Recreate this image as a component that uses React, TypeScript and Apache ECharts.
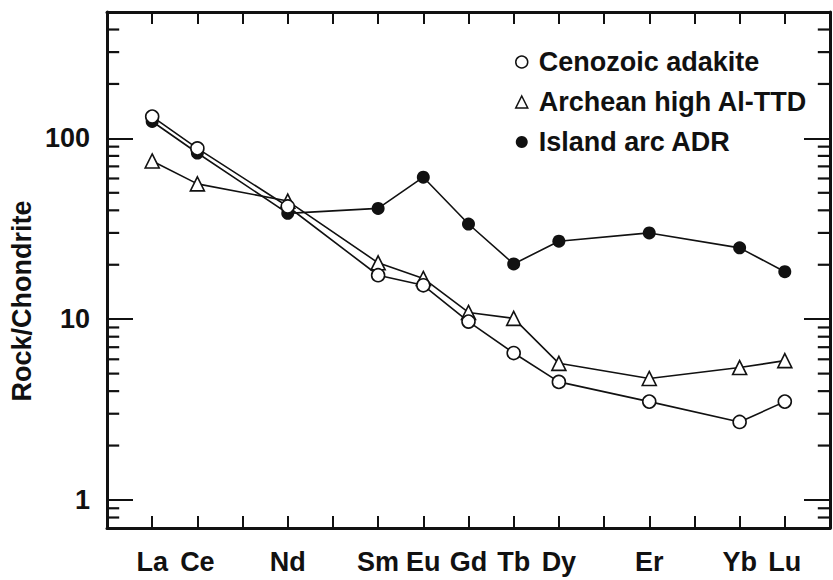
import React, { useEffect, useRef } from 'react';
import * as echarts from 'echarts';

// Rare-earth elements along the x axis (Pr, Pm, Ho, Tm are ticks without labels)
const elements = ['La', 'Ce', 'Pr', 'Nd', 'Pm', 'Sm', 'Eu', 'Gd', 'Tb', 'Dy', 'Ho', 'Er', 'Tm', 'Yb', 'Lu'];
const labeledElements = ['La', 'Ce', 'Nd', 'Sm', 'Eu', 'Gd', 'Tb', 'Dy', 'Er', 'Yb', 'Lu'];

const seriesNames = ['Cenozoic adakite', 'Archean high Al-TTD', 'Island arc ADR'];
const adakite = [132, 88, 42, 17.5, 15.4, 9.7, 6.5, 4.5, 3.5, 2.7, 3.5];
const ttd = [75, 56, 45, 20.5, 16.8, 10.9, 10.1, 5.7, 4.7, 5.4, 5.9];
const adr = [124, 83, 38.5, 41, 61, 33.6, 20.2, 27, 30, 24.8, 18.3];

const majorTicks = [1, 10, 100];
const minorTicks = [0.8, 0.9, 2, 3, 4, 5, 6, 7, 8, 9, 20, 30, 40, 50, 60, 70, 80, 90, 200, 300, 400];
const yMin = 0.7;
const yMax = 500;
const xMin = -1;
const xMax = 15;
const yTitle = 'Rock/Chondrite';

const font = "'Liberation Sans', Arial, Helvetica, sans-serif";
const ink = '#111';
const minorTickLen = 0.27; // length of a minor tick, in x-axis units (~12px)

const toPairs = (vals: number[]) => labeledElements.map((e, i) => [elements.indexOf(e), vals[i]]);

function yAxis(position: 'left' | 'right', labels: boolean) {
  return {
    type: 'log',
    logBase: 10,
    min: yMin,
    max: yMax,
    position,
    axisLine: { show: true, onZero: false, lineStyle: { color: ink, width: 3 } },
    axisTick: { show: true, inside: true, length: 26, lineStyle: { color: ink, width: 2 } },
    axisLabel: {
      show: labels,
      showMinLabel: false,
      showMaxLabel: false,
      margin: 17,
      fontFamily: font,
      fontWeight: 'bold',
      fontSize: 27,
      color: ink,
      formatter: (v: number) => (majorTicks.includes(Math.round(v)) ? String(Math.round(v)) : ''),
    },
    splitLine: { show: false },
    minorTick: { show: false },
  };
}

function xAxis(position: 'bottom' | 'top', labels: boolean) {
  return {
    type: 'value',
    min: xMin,
    max: xMax,
    interval: 1,
    position,
    axisLine: { show: true, onZero: false, lineStyle: { color: ink, width: 3 } },
    axisTick: { show: true, inside: true, length: 12, lineStyle: { color: ink, width: 2 } },
    axisLabel: {
      show: labels,
      margin: 20,
      fontFamily: font,
      fontWeight: 'bold',
      fontSize: 27,
      color: ink,
      formatter: (v: number) => {
        const e = elements[Math.round(v)];
        return e && labeledElements.includes(e) ? e : '';
      },
    },
    splitLine: { show: false },
  };
}

export default function App() {
  const ref = useRef<HTMLDivElement>(null);
  useEffect(() => {
    if (!ref.current) return;
    const chart = echarts.init(ref.current, undefined, { renderer: 'svg' });
    const openStyle = { color: '#fff', borderColor: ink, borderWidth: 1.6 };

    // minor log ticks drawn as short segments on both frame sides, through the axis scales
    const tickSeries: any[] = [];
    minorTicks.forEach((v, i) => {
      [
        [xMin, xMin + minorTickLen],
        [xMax - minorTickLen, xMax],
      ].forEach(([a, b], side) => {
        tickSeries.push({
          id: 'minor-' + i + '-' + side,
          name: 'minor tick ' + v + (side ? ' R' : ' L'),
          type: 'line',
          silent: true,
          symbol: 'none',
          showSymbol: false,
          clip: false,
          z: 5,
          data: [
            [a, v],
            [b, v],
          ],
          lineStyle: { color: ink, width: 2.2, opacity: 1 },
          itemStyle: { color: ink },
          tooltip: { show: false },
        });
      });
    });

    chart.setOption({
      animation: false,
      backgroundColor: '#fff',
      grid: { left: 107, right: -5, top: 12, bottom: 52, containLabel: false },
      xAxis: [xAxis('bottom', true), xAxis('top', false)],
      yAxis: [yAxis('left', true), yAxis('right', false)],
      legend: {
        orient: 'vertical',
        left: 510,
        top: 42,
        itemWidth: 12,
        itemHeight: 12,
        itemGap: 10,
        selectedMode: false,
        textStyle: {
          fontFamily: font,
          fontWeight: 'bold',
          fontSize: 27,
          color: ink,
          lineHeight: 30,
          padding: [0, 0, 0, 6],
        },
        data: [
          { name: seriesNames[0], icon: 'circle', itemStyle: { color: '#fff', borderColor: ink, borderWidth: 1.5 } },
          { name: seriesNames[1], icon: 'triangle', itemStyle: { color: '#fff', borderColor: ink, borderWidth: 1.5 } },
          { name: seriesNames[2], icon: 'circle', itemStyle: { color: ink, borderColor: ink, borderWidth: 0 } },
        ],
      },
      graphic: [
        {
          type: 'text',
          x: 22,
          y: 301,
          rotation: Math.PI / 2,
          style: {
            text: yTitle,
            fontFamily: font,
            fontWeight: 'bold',
            fontSize: 27,
            fill: ink,
            align: 'center',
            verticalAlign: 'middle',
          },
        },
      ],
      series: [
        ...tickSeries,
        {
          name: seriesNames[2],
          type: 'line',
          data: toPairs(adr),
          symbol: 'circle',
          symbolSize: 13,
          itemStyle: { color: ink },
          lineStyle: { color: ink, width: 1.6 },
          z: 2,
        },
        {
          name: seriesNames[1],
          type: 'line',
          data: toPairs(ttd),
          symbol: 'triangle',
          symbolSize: 14,
          itemStyle: openStyle,
          lineStyle: { color: ink, width: 1.6 },
          z: 3,
        },
        {
          name: seriesNames[0],
          type: 'line',
          data: toPairs(adakite),
          symbol: 'circle',
          symbolSize: 13,
          itemStyle: openStyle,
          lineStyle: { color: ink, width: 1.6 },
          z: 4,
        },
      ],
    });
    return () => chart.dispose();
  }, []);
  return (
    <div
      ref={ref}
      style={{ position: 'fixed', left: 0, top: 0, width: 833, height: 580, background: '#fff' }}
    />
  );
}
